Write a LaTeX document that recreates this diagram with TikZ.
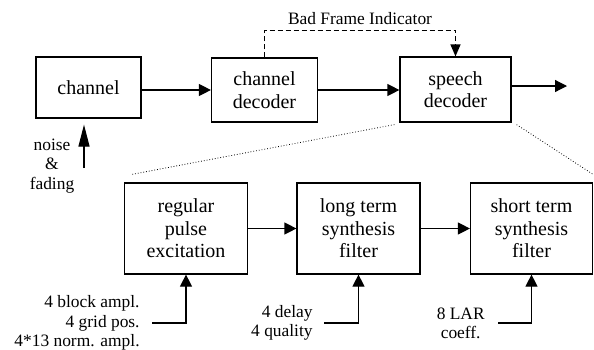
\documentclass[tikz,border=0pt]{standalone}
\usepackage{fontspec}
\setmainfont{Liberation Serif}
\usetikzlibrary{arrows.meta}

\begin{document}
\begin{tikzpicture}[x=0.5pt, y=-0.5pt,
    blk/.style={draw, line width=0.6pt, align=center, inner sep=0pt,
      font=\fontsize{10}{11.25}\selectfont},
    lbl/.style={font=\fontsize{8.7}{9.6}\selectfont, inner sep=0pt},
    arr/.style={line width=0.6pt, -{Triangle[length=6pt, width=6pt]}}]
    \useasboundingbox (0,0) rectangle (594,349);

    % Top row: transmission side
    \node[blk, minimum width=52.5pt, minimum height=30.5pt] (chan) at (88.5,87.5) {channel};
    \node[blk, minimum width=53pt, minimum height=32pt] (cdec) at (264.5,90) {channel\\decoder};
    \node[blk, minimum width=55.5pt, minimum height=32.5pt] (sdec) at (455.5,89.5) {speech\\decoder};
    \coordinate (out) at (567,86);

    \draw[arr] (chan.east |- cdec) -- (cdec.west);
    \draw[arr] (cdec.east) -- (sdec.west |- cdec.east);
    \draw[arr] (sdec.east |- out) -- (out);

    % Bad frame flag goes round the top
    \draw[line width=0.6pt, dash pattern=on 2.5pt off 1.5pt, -{Triangle[length=6pt, width=5pt]}]
    (cdec.north) -- ++(0,-27) -| node[pos=0.25, above=2.5pt, lbl] (bfi) {Bad Frame Indicator} (sdec.north);

    % Disturbance on the channel
    \node[lbl, align=center] (noise) at (52,166) {noise\\\&\\fading};
    \coordinate (nsrc) at (84,168);
    \draw[line width=0.6pt, -{Triangle[length=11pt, width=5.5pt]}, shorten >=3pt] (nsrc) -- (chan.south -| nsrc);

    % Bottom row: inside the speech decoder
    \node[blk, minimum width=61.5pt, minimum height=45.5pt] (rpe) at (186,228.5) {regular\\pulse\\excitation};
    \node[blk, minimum width=61.5pt, minimum height=45.5pt] (ltp) at (358.5,228.5) {long term\\synthesis\\filter};
    \node[blk, minimum width=61pt, minimum height=45.5pt] (stp) at (531.5,228.5) {short term\\synthesis\\filter};

    \draw[arr] (rpe) -- (ltp);
    \draw[arr] (ltp) -- (stp);

    % Zoom lines
    \draw[densely dotted, line width=0.4pt] ([shift={(-5,2)}]sdec.south west) -- ([shift={(8,-8)}]rpe.north west);
    \draw[densely dotted, line width=0.4pt] ([shift={(5,2)}]sdec.south east) -- ([shift={(0,-8)}]stp.north east);

    % Parameters fed into each block
    \coordinate (rpeIn) at (152,323);
    \coordinate (ltpIn) at (324,323);
    \coordinate (stpIn) at (498,323);
    \node[lbl, align=right, anchor=east] (rpeLbl) at ([xshift=-6pt]rpeIn) {4 block ampl.\\4 grid pos.\\4*13 norm. ampl.};
    \node[lbl, align=right, anchor=east] (ltpLbl) at ([xshift=-5.5pt]ltpIn) {4 delay\\4 quality};
    \node[lbl, align=center, anchor=east] (stpLbl) at ([xshift=-6.5pt]stpIn) {8 LAR\\coeff.};
    \draw[arr] (rpeIn) -| (rpe.south);
    \draw[arr] (ltpIn) -| (ltp.south);
    \draw[arr] (stpIn) -| (stp.south);
  \end{tikzpicture}
\end{document}
